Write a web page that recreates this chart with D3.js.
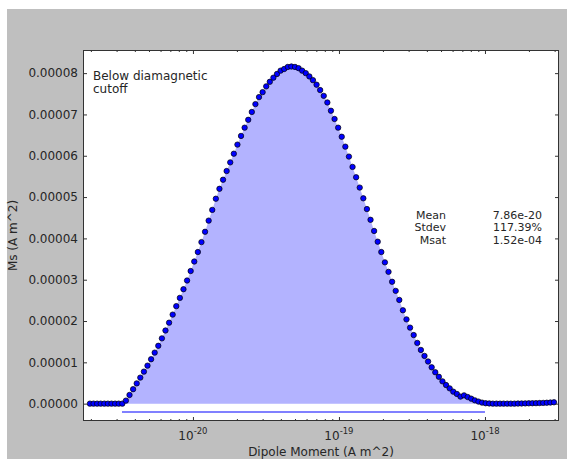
<!DOCTYPE html>
<html>
<head>
<meta charset="utf-8">
<script src="https://cdn.jsdelivr.net/npm/d3@7/dist/d3.min.js"></script>
<style>
  html, body { margin: 0; padding: 0; background: #ffffff; }
  svg { display: block; font-family: "DejaVu Sans", sans-serif; }
</style>
</head>
<body>
<svg id="chart" width="567" height="459"></svg>
<script>
// Moment grid: evenly spaced in log10(moment)
const logMomentStart = -20.7055;
const logMomentStep = 0.024637;

// Ms per bin, in units of 1e-5 A m^2
const MS_UNIT = 1e-5;
const msValues = [
  0, 0, 0, 0, 0, 0, 0, 0, 0, 0,
  0.073, 0.21, 0.35, 0.49, 0.63, 0.775, 0.92, 1.075, 1.235, 1.40,
  1.58, 1.77, 1.96, 2.155, 2.36, 2.56, 2.77, 2.98, 3.21, 3.44,
  3.67, 3.91, 4.16, 4.43, 4.69, 4.96, 5.20, 5.42, 5.63, 5.84,
  6.05, 6.27, 6.48, 6.68, 6.87, 7.06, 7.25, 7.42,
  7.54, 7.68, 7.79, 7.89, 7.98, 8.06, 8.10, 8.15, 8.16, 8.15,
  8.12, 8.06, 8.00, 7.92, 7.83, 7.72, 7.59, 7.45, 7.29, 7.09,
  6.89, 6.68, 6.46, 6.22, 5.98, 5.73, 5.48, 5.23, 4.97, 4.71,
  4.45, 4.18, 3.92, 3.67, 3.42, 3.19, 2.95, 2.73, 2.51,
  2.26, 2.04, 1.84, 1.66, 1.47, 1.30, 1.155, 1.02, 0.88, 0.76,
  0.65, 0.54, 0.45, 0.37, 0.29, 0.235, 0.17, 0.20, 0.16, 0.12,
  0.08, 0.05, 0.025, 0.01,
  0.005, 0, 0, 0, 0, 0, 0, 0,
  0.002, 0.004, 0.006, 0.008, 0.01, 0.012, 0.015, 0.018, 0.022, 0.027, 0.033
];

// Diamagnetic cutoff and upper integration bound (A m^2)
const cutoffMoment = Math.pow(10, -20.486);
const upperMoment = 1e-18;
const rangeBarLevel = -2e-6;

// Axis ticks
const yTicks = [0, 0.00001, 0.00002, 0.00003, 0.00004, 0.00005, 0.00006, 0.00007, 0.00008];
const xMajorExponents = [-20, -19, -18];

// Annotation text
const cutoffLabel = ["Below diamagnetic", "cutoff"];
const statNames = ["Mean", "Stdev", "Msat"];
const statValues = ["7.86e-20", "117.39%", "1.52e-04"];

const points = msValues.map((v, i) => ({
  m: Math.pow(10, logMomentStart + i * logMomentStep),
  ms: v * MS_UNIT
}));

const svg = d3.select("#chart");
const W = 567, H = 459;
const plot = { left: 83, right: 559, top: 50, bottom: 421 };

// Figure background
svg.append("rect").attr("x", 7).attr("y", 9).attr("width", W - 7).attr("height", H - 9)
  .attr("fill", "#bfbfbf");
svg.append("rect").attr("x", plot.left).attr("y", plot.top)
  .attr("width", plot.right - plot.left).attr("height", plot.bottom - plot.top)
  .attr("fill", "#ffffff");

const x = d3.scaleLog()
  .domain([Math.pow(10, -20.753), Math.pow(10, -17.493)])
  .range([plot.left, plot.right]);
const y = d3.scaleLinear()
  .domain([-4.2e-6, 8.56e-5])
  .range([plot.bottom, plot.top]);

svg.append("clipPath").attr("id", "plotclip")
  .append("rect").attr("x", plot.left).attr("y", plot.top)
  .attr("width", plot.right - plot.left).attr("height", plot.bottom - plot.top);

const g = svg.append("g").attr("clip-path", "url(#plotclip)");

// Shaded area above the cutoff
const inRange = points.filter(p => p.m >= cutoffMoment * 0.999 && p.m <= upperMoment);
const area = d3.area()
  .x(p => x(p.m))
  .y0(y(0))
  .y1(p => y(p.ms));
g.append("path").datum(inRange).attr("d", area)
  .attr("fill", "#b3b3ff").attr("stroke", "none");

// Range bar from cutoff to upper bound
g.append("line")
  .attr("x1", x(cutoffMoment)).attr("x2", x(upperMoment))
  .attr("y1", y(rangeBarLevel)).attr("y2", y(rangeBarLevel))
  .attr("stroke", "#8080ff").attr("stroke-width", 2);

// Data markers
g.selectAll("circle.pt").data(points).enter().append("circle")
  .attr("class", "pt")
  .attr("cx", p => x(p.m)).attr("cy", p => y(p.ms))
  .attr("r", 2.7)
  .attr("fill", "#0000ff").attr("stroke", "#000000").attr("stroke-width", 0.7);

// Axes (ticks pointing inward on all four sides)
const tickColor = "#333333";
const textColor = "#262626";

function styleAxis(sel) {
  sel.select(".domain").remove();
  sel.selectAll(".tick line").attr("stroke", tickColor).attr("stroke-width", 1);
  sel.selectAll(".tick text").attr("fill", textColor).attr("font-size", 12)
    .attr("font-family", "DejaVu Sans, sans-serif");
}

const yAxisL = svg.append("g").attr("transform", `translate(${plot.left},0)`)
  .call(d3.axisLeft(y).tickValues(yTicks).tickFormat(d3.format(".5f"))
    .tickSizeInner(-4).tickSizeOuter(0).tickPadding(5));
styleAxis(yAxisL);

const yAxisR = svg.append("g").attr("transform", `translate(${plot.right},0)`)
  .call(d3.axisRight(y).tickValues(yTicks).tickFormat("")
    .tickSizeInner(-4).tickSizeOuter(0));
styleAxis(yAxisR);

const majorX = xMajorExponents.map(e => Math.pow(10, e));
const [dLo, dHi] = x.domain();
const minorX = [];
for (let e = -21; e <= -18; e++) {
  for (let k = 2; k <= 9; k++) {
    const v = k * Math.pow(10, e);
    if (v >= dLo && v <= dHi) minorX.push(v);
  }
}

[[plot.bottom, d3.axisBottom], [plot.top, d3.axisTop]].forEach(([yy, axisFn]) => {
  const major = svg.append("g").attr("transform", `translate(0,${yy})`)
    .call(axisFn(x).tickValues(majorX).tickFormat("").tickSizeInner(-4).tickSizeOuter(0));
  styleAxis(major);
  const minor = svg.append("g").attr("transform", `translate(0,${yy})`)
    .call(axisFn(x).tickValues(minorX).tickFormat("").tickSizeInner(-2).tickSizeOuter(0));
  styleAxis(minor);
});

// Log tick labels with superscript exponents
const xl = svg.append("g");
xMajorExponents.forEach(e => {
  const t = xl.append("text")
    .attr("x", x(Math.pow(10, e))).attr("y", 440)
    .attr("text-anchor", "middle").attr("fill", textColor)
    .attr("font-size", 12);
  t.append("tspan").text("10");
  t.append("tspan").attr("font-size", 8.5).attr("dy", -6).text(String(e));
});

// Plot frame
svg.append("rect").attr("x", plot.left + 0.5).attr("y", plot.top + 0.5)
  .attr("width", plot.right - plot.left - 1).attr("height", plot.bottom - plot.top - 1)
  .attr("fill", "none").attr("stroke", "#333333").attr("stroke-width", 1);

// Axis titles
svg.append("text")
  .attr("x", (plot.left + plot.right) / 2).attr("y", 456)
  .attr("text-anchor", "middle").attr("fill", textColor).attr("font-size", 12)
  .text("Dipole Moment (A m^2)");
svg.append("text")
  .attr("transform", `translate(17,${(plot.top + plot.bottom) / 2}) rotate(-90)`)
  .attr("text-anchor", "middle").attr("fill", textColor).attr("font-size", 12)
  .text("Ms (A m^2)");

// Cutoff annotation
cutoffLabel.forEach((s, i) => {
  svg.append("text").attr("x", 93).attr("y", 80 + i * 13)
    .attr("fill", textColor).attr("font-size", 12).text(s);
});

// Statistics block
statNames.forEach((s, i) => {
  svg.append("text").attr("x", 446).attr("y", 218.5 + i * 12.5)
    .attr("text-anchor", "end").attr("fill", textColor).attr("font-size", 11).text(s);
  svg.append("text").attr("x", 542).attr("y", 218.5 + i * 12.5)
    .attr("text-anchor", "end").attr("fill", textColor).attr("font-size", 11).text(statValues[i]);
});
</script>
</body>
</html>
